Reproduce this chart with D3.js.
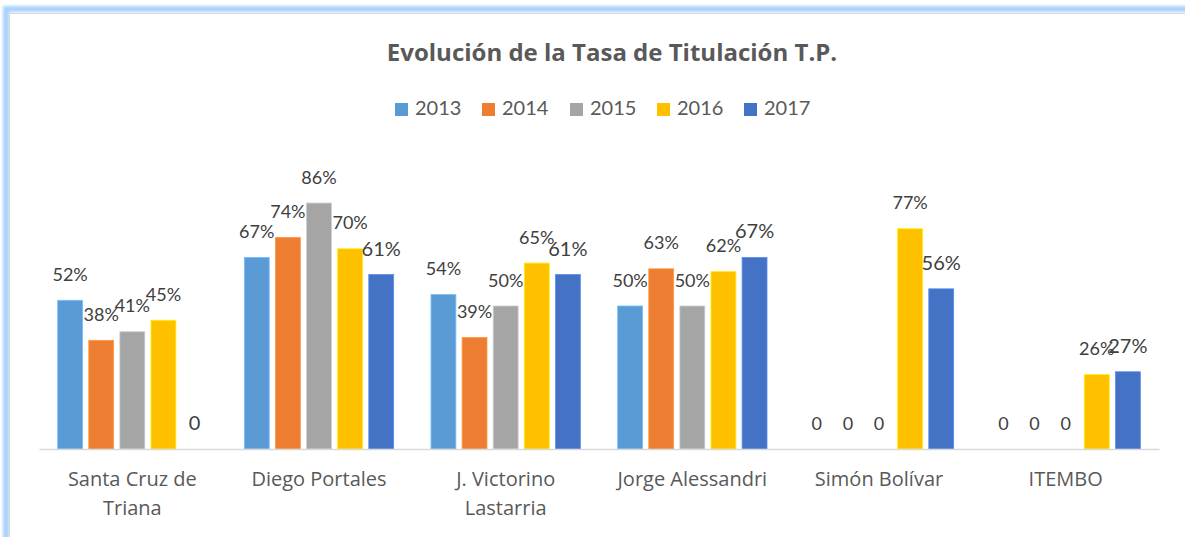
<!DOCTYPE html>
<html><head><meta charset="utf-8">
<script src="https://cdn.jsdelivr.net/npm/d3@7"></script>
<style>html,body{margin:0;padding:0;background:#fff;overflow:hidden}</style>
</head><body>
<svg id="c" width="1185" height="537"></svg>
<script>
const categories = ["Santa Cruz de Triana", "Diego Portales", "J. Victorino Lastarria", "Jorge Alessandri", "Simón Bolívar", "ITEMBO"];
const categoryLines = [["Santa Cruz de", "Triana"], ["Diego Portales"], ["J. Victorino", "Lastarria"], ["Jorge Alessandri"], ["Simón Bolívar"], ["ITEMBO"]];
const series = ["2013", "2014", "2015", "2016", "2017"];
const colors = ["#5B9BD5", "#ED7D31", "#A5A5A5", "#FFC000", "#4472C4"];
const v2013 = [52, 67, 54, 50, 0, 0];
const v2014 = [38, 74, 39, 63, 0, 0];
const v2015 = [41, 86, 50, 50, 0, 0];
const v2016 = [45, 70, 65, 62, 77, 26];
const v2017 = [0, 61, 61, 67, 56, 27];
const title = "Evolución de la Tasa de Titulación T.P.";

const values = [v2013, v2014, v2015, v2016, v2017];
const svg = d3.select("#c");
const font = "Lato, 'Open Sans', sans-serif";
const font2 = "'Open Sans', Lato, sans-serif";

// frame
const defs = svg.append("defs");
const f = defs.append("filter").attr("id","glow").attr("x","-5%").attr("y","-5%").attr("width","110%").attr("height","110%");
f.append("feGaussianBlur").attr("stdDeviation", 1.6);
svg.append("rect").attr("x",6).attr("y",9).attr("width",1400).attr("height",800)
  .attr("fill","none").attr("stroke","#a9d2fb").attr("stroke-width",6).attr("filter","url(#glow)");
svg.append("rect").attr("x",9.5).attr("y",13.5).attr("width",1400).attr("height",800)
  .attr("fill","#fff").attr("stroke","#d6d6d6").attr("stroke-width",1);

const x0 = d3.scaleBand().domain(categories).range([39, 1159]).paddingInner(0).paddingOuter(0);
const x1 = d3.scaleBand().domain(series).range([0, x0.bandwidth()]).paddingInner(0.2).paddingOuter(0.6);
const y = d3.scaleLinear().domain([0, 100]).range([449, 163]);

// title
svg.append("text").attr("x", 612).attr("y", 55).attr("text-anchor","middle").attr("dominant-baseline","middle")
  .attr("font-family", font2).attr("font-weight","bold").attr("font-size", 24).attr("fill","#595959").text(title);

// legend
const legX = [395, 482, 570, 657, 744];
const leg = svg.append("g");
series.forEach((s, i) => {
  const g = leg.append("g").attr("transform", `translate(${legX[i]},110)`);
  g.append("rect").attr("x",0).attr("y",-7).attr("width",13).attr("height",13).attr("fill",colors[i]);
  g.append("text").attr("x",20).attr("y",0).attr("dominant-baseline","middle")
    .attr("font-family",font).attr("font-size",20).attr("fill","#595959").text(s);
});

// bars
const groups = svg.append("g").selectAll("g").data(categories).join("g")
  .attr("transform", d => `translate(${x0(d)},0)`);
groups.each(function(cat, ci) {
  const g = d3.select(this);
  series.forEach((s, si) => {
    const v = values[si][ci];
    if (v > 0) {
      g.append("rect").attr("x", x1(s)).attr("y", y(v)).attr("width", x1.bandwidth()).attr("height", y(0) - y(v))
        .attr("fill", colors[si]).attr("stroke", d3.color(colors[si]).brighter(0.6)).attr("stroke-width", 0.8);
    }
    g.append("text").attr("x", x1(s) + x1.bandwidth()/2).attr("y", y(v) - 24)
      .attr("text-anchor","middle").attr("dominant-baseline","middle")
      .attr("font-family", font).attr("font-size", si === 4 ? 20 : 18).attr("fill","#404040")
      .text(v === 0 ? "0" : v + "%");
  });
});

// axis
const xAxis = d3.axisBottom(x0).tickSize(0).tickFormat("");
const ax = svg.append("g").attr("transform", `translate(0,${y(0)})`).call(xAxis);
ax.select(".domain").attr("stroke","#d9d9d9").attr("stroke-width",1.5);
categories.forEach((c, i) => {
  const t = svg.append("text").attr("x", x0(c) + x0.bandwidth()/2).attr("y", 481)
    .attr("text-anchor","middle").attr("font-family",font2).attr("font-size",20).attr("fill","#595959");
  categoryLines[i].forEach((l, li) => {
    t.append("tspan").attr("x", x0(c) + x0.bandwidth()/2).attr("dy", li === 0 ? 0 : 29)
      .attr("dominant-baseline","middle").text(l);
  });
});
</script>
</body></html>
